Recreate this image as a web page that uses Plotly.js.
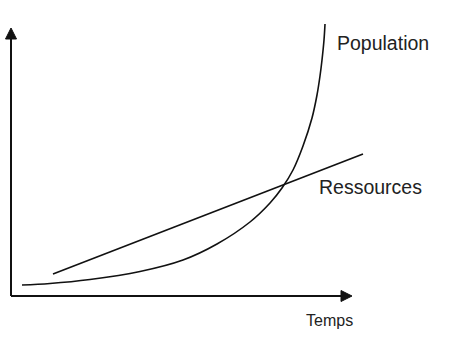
<!DOCTYPE html>
<html>
<head>
<meta charset="utf-8">
<script src="https://cdn.plot.ly/plotly-3.0.1.min.js"></script>
<style>html,body{margin:0;padding:0;background:#fff;}#chart{width:456px;height:355px;}</style>
</head>
<body>
<div id="chart"></div>
<script>
// Population curve (time, value)
var popTime  = [11, 39, 79, 129, 172, 206, 239, 259, 271, 282, 292, 301, 306, 309, 311, 313, 314];
var popValue = [11, 12.5, 16.5, 24.5, 36, 52, 74, 93, 108, 126, 150, 178, 201, 220, 236, 256, 272];
// Resources line
var resTime  = [42, 352];
var resValue = [22, 142];
// Labels
var popLabel = "Population";
var resLabel = "Ressources";
var xLabel = "Temps";

var traces = [
  {x: popTime, y: popValue, mode: "lines", line: {color: "#111", width: 1.6, shape: "spline", smoothing: 1}, hoverinfo: "skip"},
  {x: resTime, y: resValue, mode: "lines", line: {color: "#111", width: 1.6}, hoverinfo: "skip"}
];

var axisCol = "#111";
var layout = {
  width: 456, height: 355,
  margin: {l: 0, r: 0, t: 0, b: 0},
  paper_bgcolor: "#fff", plot_bgcolor: "#fff",
  showlegend: false,
  xaxis: {range: [-11, 445], visible: false, fixedrange: true},
  yaxis: {range: [-59, 296], visible: false, fixedrange: true},
  shapes: [
    {type: "line", x0: 0, y0: 0, x1: 0, y1: 258, line: {color: axisCol, width: 2}},
    {type: "line", x0: 0, y0: 0, x1: 332, y1: 0, line: {color: axisCol, width: 2}},
    {type: "path", path: "M -5.5 257 L 0 268 L 5.5 257 Z", fillcolor: axisCol, line: {color: axisCol, width: 1}},
    {type: "path", path: "M 330 -5.5 L 341 0 L 330 5.5 Z", fillcolor: axisCol, line: {color: axisCol, width: 1}}
  ],
  annotations: [
    {x: 324, y: 253, text: popLabel, showarrow: false, xanchor: "left", yanchor: "middle", font: {family: "Liberation Sans, Arial, sans-serif", size: 19.5, color: "#222"}},
    {x: 306, y: 109, text: resLabel, showarrow: false, xanchor: "left", yanchor: "middle", font: {family: "Liberation Sans, Arial, sans-serif", size: 19.5, color: "#222"}},
    {x: 293, y: -24, text: xLabel, showarrow: false, xanchor: "left", yanchor: "middle", font: {family: "Liberation Sans, Arial, sans-serif", size: 16, color: "#222"}}
  ]
};
Plotly.newPlot("chart", traces, layout, {staticPlot: true, displayModeBar: false});
</script>
</body>
</html>
